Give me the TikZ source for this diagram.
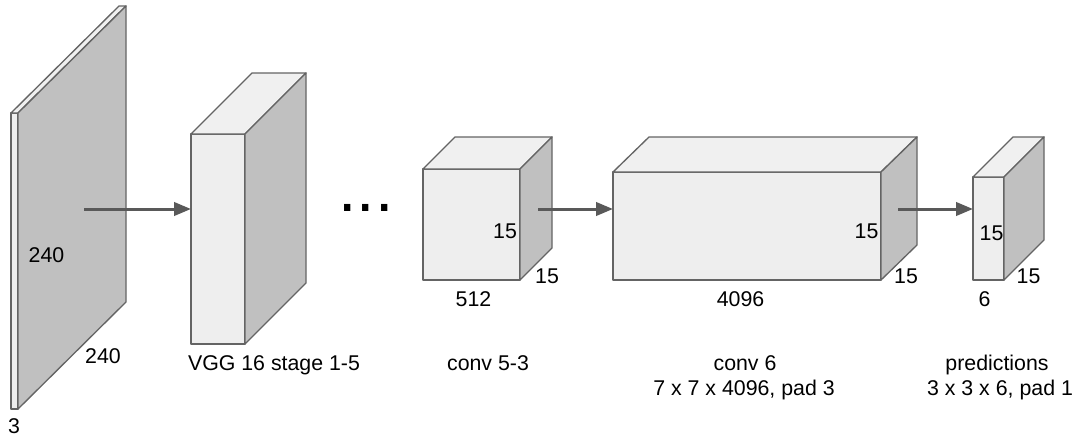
\documentclass[tikz,border=0pt]{standalone}
\usepackage{fontspec}
\setmainfont{Liberation Sans}
\usetikzlibrary{arrows.meta}

\definecolor{edgec}{HTML}{646464}
\definecolor{frontc}{HTML}{EEEEEE}
\definecolor{topc}{HTML}{F0F0F0}
\definecolor{sidec}{HTML}{C0C0C0}
\definecolor{arrowc}{HTML}{595959}

\tikzset{
  face/.style={draw=edgec, line width=1pt, line join=round},
  frontface/.style={face, fill=frontc, rectangle, inner sep=0pt, outer sep=0pt, anchor=north west},
  topface/.style={face, fill=topc},
  sideface/.style={face, fill=sidec},
  flow/.style={draw=arrowc, line width=2.25pt, -{Triangle[length=12.75pt,width=10pt]}},
  lbl/.style={font=\fontsize{16}{19}\selectfont, inner sep=0pt, anchor=base},
}

% front face node, then top and side faces from its corners
% #1 name, #2 x, #3 y, #4 width, #5 height, #6 depth (dx), #7 depth (dy)
\newcommand{\layerbox}[7]{%
  \node[frontface, minimum width=#4*0.75pt, minimum height=#5*0.75pt] (#1) at (#2,#3) {};
  \draw[topface] (#1.north west) -- ++(#6,#7) -- ++(#4,0) -- (#1.north east) -- cycle;
  \draw[sideface] (#1.north east) -- ++(#6,#7) -- ++(0,#5) -- (#1.south east) -- cycle;
}

\begin{document}
\begin{tikzpicture}[x=0.75pt, y=-0.75pt]
  \useasboundingbox (0,0) rectangle (1077,436);

  % input image slab
  \layerbox{inp}{11}{113}{7}{296}{108}{-107}
  \node[lbl] (inph) at (46.5,262) {240};
  \node[lbl] (inpw) at (103,363) {240};
  \node[lbl] (inpc) at (14,433) {3};

  % VGG backbone
  \layerbox{vgg}{191}{134}{54}{210}{61}{-61}
  \node[lbl] (vggl) at (274,370) {VGG 16 stage 1-5};

  % ellipsis between stages
  \node[font=\fontsize{49.5}{50}\selectfont, inner sep=0pt, anchor=base] (dots) at (366,211) {...};

  % conv 5-3
  \layerbox{c53}{423}{169}{97}{111}{32}{-32}
  \node[lbl] (c53h) at (505,238) {15};
  \node[lbl] (c53d) at (547,283) {15};
  \node[lbl] (c53w) at (473.5,306) {512};
  \node[lbl] (c53l) at (488,370) {conv 5-3};

  % conv 6
  \layerbox{c6}{613}{172}{268}{108}{36}{-35}
  \node[lbl] (c6h) at (866.5,238) {15};
  \node[lbl] (c6d) at (906,283) {15};
  \node[lbl] (c6w) at (740.5,306) {4096};
  \node[lbl] (c6l) at (745,370) {conv 6};
  \node[lbl] (c6k) at (744,395) {7 x 7 x 4096, pad 3};

  % predictions
  \layerbox{pred}{973}{177}{31}{103}{40}{-40}
  \node[lbl] (predh) at (991.5,240) {15};
  \node[lbl] (predd) at (1028.5,283) {15};
  \node[lbl] (predw) at (984.5,306) {6};
  \node[lbl] (predl) at (997,370) {predictions};
  \node[lbl] (predk) at (1000,395) {3 x 3 x 6, pad 1};

  % connectors
  \coordinate (s1) at (84,209);
  \coordinate (s2) at (538,209);
  \coordinate (s3) at (898,209);
  \draw[flow] (s1) -- (s1 -| vgg.west);
  \draw[flow] (s2) -- (s2 -| c6.west);
  \draw[flow] (s3) -- (s3 -| pred.west);
\end{tikzpicture}
\end{document}
